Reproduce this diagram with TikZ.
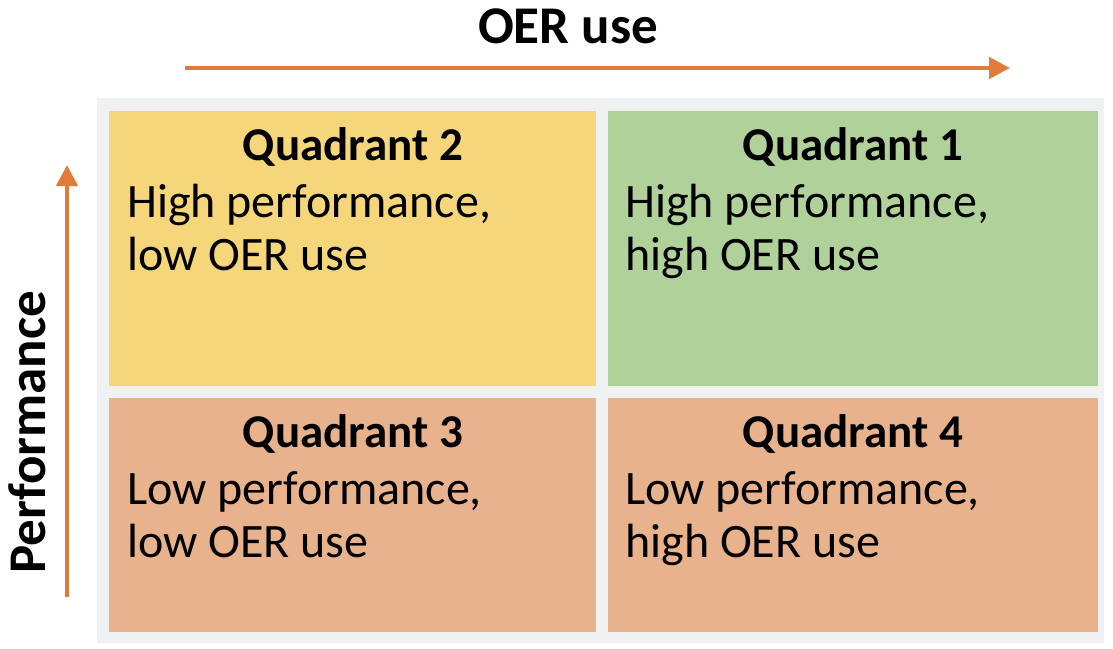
\documentclass[tikz,border=0pt]{standalone}
\usepackage{fontspec}
\setmainfont{Carlito}
\usetikzlibrary{arrows.meta}
\definecolor{qyellow}{HTML}{F5D67A}
\definecolor{qgreen}{HTML}{B0D19A}
\definecolor{qorange}{HTML}{E8B38C}
\definecolor{qgray}{HTML}{F0F1F3}
\definecolor{axisorange}{HTML}{E07B39}
\tikzset{
  cell/.style={rectangle, inner sep=0pt, draw=none, anchor=north west},
  qtitle/.style={font=\fontsize{47}{50}\selectfont\bfseries, anchor=base, inner sep=0pt},
  qbody/.style={font=\fontsize{48}{53}\selectfont, anchor=base west, align=left, inner sep=0pt},
  axislabel/.style={font=\fontsize{53}{56}\selectfont\bfseries, anchor=base, inner sep=0pt},
  axisarrow/.style={draw=axisorange, line width=4.5pt, -{Triangle[length=21pt,width=21pt]}}
}
\begin{document}
\begin{tikzpicture}[x=1pt,y=-1pt]
\useasboundingbox (0,0) rectangle (1113,648);
\fill[qgray] (97,98) rectangle (1104,643);
\node[cell, fill=qyellow, minimum width=487pt, minimum height=275pt] (q2) at (109,111) {};
\node[cell, fill=qgreen, minimum width=490pt, minimum height=275pt] (q1) at (608,111) {};
\node[cell, fill=qorange, minimum width=487pt, minimum height=234pt] (q3) at (109,398) {};
\node[cell, fill=qorange, minimum width=490pt, minimum height=234pt] (q4) at (608,398) {};
\node[qtitle] (t2) at (353,160) {Quadrant 2};
\node[qtitle] (t1) at (853,160) {Quadrant 1};
\node[qtitle] (t3) at (353,447) {Quadrant 3};
\node[qtitle] (t4) at (853,447) {Quadrant 4};
\node[qbody] (b2) at (127,270) {High performance,\\low OER use};
\node[qbody] (b1) at (625,270) {High performance,\\high OER use};
\node[qbody] (b3) at (127,557) {Low performance,\\low OER use};
\node[qbody] (b4) at (625,557) {Low performance,\\high OER use};
\node[axislabel] (xl) at (568,43) {OER use};
\node[axislabel, rotate=90] (yl) at (45,432) {Performance};
\coordinate (xs) at (185,68);
\coordinate (xe) at (1010,68);
\coordinate (ys) at (67,597);
\coordinate (ye) at (67,165);
\draw[axisarrow] (xs) -- (xe);
\draw[axisarrow] (ys) -- (ye);
\end{tikzpicture}
\end{document}
